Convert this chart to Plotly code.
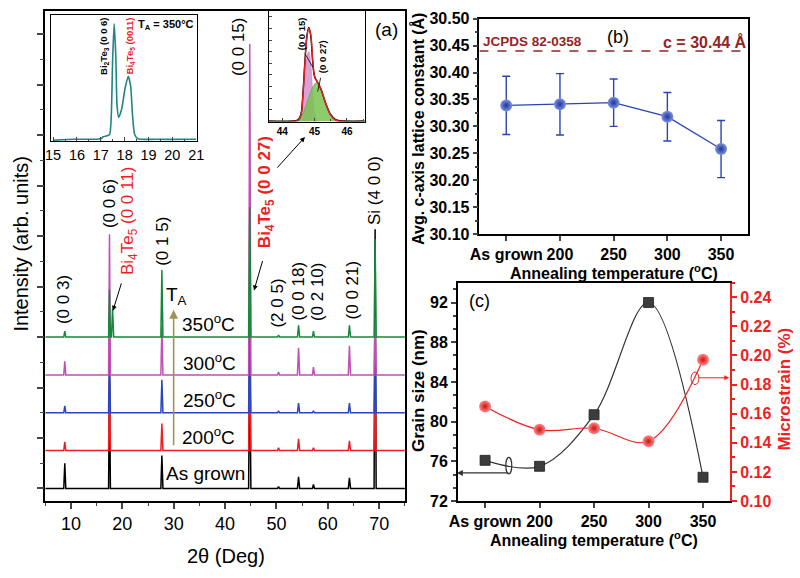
import plotly.graph_objects as go

# ---------------- DATA ----------------
# (a) XRD patterns: peak positions (2theta), half base widths, and peak heights per pattern
PEAK_POS = [8.8, 17.5, 18.1, 27.7, 44.8, 50.4, 54.3, 57.2, 64.2, 69.2]
PEAK_W = [0.2, 0.18, 0.22, 0.2, 0.22, 0.2, 0.22, 0.2, 0.22, 0.2]
PATTERN_NAMES = ["As grown", "200oC", "250oC", "300oC", "350oC"]
PATTERN_OFFSETS = [0, 39, 78, 117, 156]
H_ASGROWN = [26, 110, 0, 34, 150, 2, 12, 4, 11, 267]
H_200 = [9, 80, 0, 28, 120, 3, 12, 3, 10, 60]
H_250 = [7, 70, 0, 34, 110, 2, 10, 2, 10, 60]
H_300 = [14, 145, 0, 50, 341, 3, 28, 8, 30, 60]
H_350 = [6, 49, 29, 69, 134, 2, 12, 6, 12, 101]
X_RANGE_A = [5, 75]
X_TICKS_A = [10, 20, 30, 40, 50, 60, 70]

# inset 1: 350 C pattern, 15-21 deg
INS1_X = [15.0, 15.9, 17.0, 17.1, 17.25, 17.37, 17.44, 17.5, 17.56, 17.63, 17.68, 17.75,
          17.88, 18.01, 18.15, 18.25, 18.33, 18.42, 18.56, 19.3, 21.0]
INS1_Y = [0.7, 1.7, 2.3, 4.3, 5.3, 6.7, 26.7, 86.7, 120.7, 86.7, 36.7, 24.3,
          33.3, 53.3, 66.7, 56.7, 26.7, 6.7, 2.3, 1.7, 1.7]

# inset 2: peak fitting near 45 deg
INS2_X = [43.58, 44.4, 44.5, 44.58, 44.64, 44.7, 44.76, 44.82, 44.88, 44.94, 45.0, 45.1,
          45.2, 45.35, 45.5, 45.65, 45.8, 46.55]
INS2_DATA = [0.5, 0.8, 2, 8, 30, 62, 88, 97, 88, 62, 46, 40, 33, 18, 7, 2, 0.8, 0.5]
INS2_FIT = [0, 0.3, 1.5, 7, 28, 60, 86, 96, 90, 64, 47, 40, 33, 18, 6.5, 1.5, 0.3, 0]
PINK_X = [44.45, 44.55, 44.62, 44.7, 44.76, 44.82, 44.88, 44.94, 45.0, 45.08]
PINK_Y = [0, 3, 20, 48, 66, 72, 60, 30, 8, 0]
GREEN_X = [44.4, 44.55, 44.65, 44.75, 44.85, 44.95, 45.05, 45.15, 45.25, 45.35, 45.5, 45.65, 45.8]
GREEN_Y = [0, 3, 9, 18, 28, 36, 40, 37, 29, 19, 7, 1.5, 0]

# (b) lattice constant
CATS = ["As grown", "200", "250", "300", "350"]
LATTICE = [30.339, 30.341, 30.344, 30.318, 30.258]
LATTICE_ERR = [0.054, 0.057, 0.044, 0.045, 0.053]
JCPDS_C = 30.44

# (c) grain size and microstrain
GRAIN = [76.1, 75.5, 80.7, 92.0, 74.4]
STRAIN = [0.165, 0.149, 0.150, 0.141, 0.197]

# ---------------- STYLE ----------------
W, H = 800, 578
FONT = "Arial, Liberation Sans, sans-serif"
COLORS = ["#000000", "#f01e1e", "#2846c0", "#c24fb5", "#17873a"]
TEAL = "#1f8585"
DARKRED = "#952525"
BLUE = "#2a44b4"
OLIVE = "#a0935a"


def fx(x):
    return x / W


def fy(y):
    return 1 - y / H


fig = go.Figure()

# ---- panel (a) patterns ----
heights_all = [H_ASGROWN, H_200, H_250, H_300, H_350]
for name, off, hs, col in zip(PATTERN_NAMES, PATTERN_OFFSETS, heights_all, COLORS):
    xs, ys = [X_RANGE_A[0]], [off]
    for p, w, h in zip(PEAK_POS, PEAK_W, hs):
        if h <= 0:
            continue
        xs += [p - w, p, p + w]
        ys += [off, off + h, off]
    xs.append(X_RANGE_A[1])
    ys.append(off)
    fig.add_trace(go.Scatter(x=xs, y=ys, mode="lines", name=name,
                             line=dict(color=col, width=1.5),
                             xaxis="x", yaxis="y", hoverinfo="skip"))

# ---- inset 1 ----
fig.add_trace(go.Scatter(x=INS1_X, y=INS1_Y, mode="lines", line=dict(color=TEAL, width=1.6, shape="spline", smoothing=0.6),
                         xaxis="x2", yaxis="y2"))

# ---- inset 2 ----
fig.add_trace(go.Scatter(x=PINK_X, y=PINK_Y, mode="lines", fill="tozeroy",
                         fillcolor="rgba(205,130,200,0.75)", line=dict(color="rgba(190,100,185,0.8)", width=0.6, shape="spline"),
                         xaxis="x3", yaxis="y3"))
fig.add_trace(go.Scatter(x=GREEN_X, y=GREEN_Y, mode="lines", fill="tozeroy",
                         fillcolor="rgba(120,195,80,0.85)", line=dict(color="rgba(90,160,70,0.9)", width=0.6, shape="spline"),
                         xaxis="x3", yaxis="y3"))
fig.add_trace(go.Scatter(x=INS2_X, y=INS2_DATA, mode="lines", line=dict(color="black", width=1.4, shape="spline"),
                         xaxis="x3", yaxis="y3"))
fig.add_trace(go.Scatter(x=INS2_X, y=INS2_FIT, mode="lines", line=dict(color="#e42020", width=1.4, shape="spline"),
                         xaxis="x3", yaxis="y3"))

# ---- panel (b) ----
xi = list(range(len(CATS)))
fig.add_trace(go.Scatter(x=xi, y=LATTICE, mode="lines+markers",
                         error_y=dict(type="data", array=LATTICE_ERR, color=BLUE, thickness=1.4, width=4),
                         line=dict(color=BLUE, width=1.3),
                         marker=dict(size=12, color="#7f93e0", gradient=dict(type="radial", color="#1f349a"),
                                     line=dict(width=0)),
                         xaxis="x4", yaxis="y4"))

# ---- panel (c) ----
fig.add_trace(go.Scatter(x=xi, y=GRAIN, mode="lines+markers",
                         line=dict(color="#333333", width=1.2, shape="spline"),
                         marker=dict(symbol="square", size=10, color="#3c3c3c", line=dict(color="#222", width=0.8)),
                         xaxis="x5", yaxis="y5"))
fig.add_trace(go.Scatter(x=xi, y=STRAIN, mode="lines+markers",
                         line=dict(color="#ee2222", width=1.2, shape="spline"),
                         marker=dict(size=12, color="#ff8a8a", gradient=dict(type="radial", color="#d01010"),
                                     line=dict(width=0)),
                         xaxis="x5", yaxis="y6"))

# ---------------- AXES ----------------
axline = dict(showline=True, linecolor="black", linewidth=1.5, showgrid=False, zeroline=False)
boldtick = dict(family=FONT, size=16, color="black", weight="bold")

layout = dict(
    width=W, height=H, margin=dict(l=0, r=0, t=0, b=0),
    paper_bgcolor="white", plot_bgcolor="white", showlegend=False,
    font=dict(family=FONT, color="black"),
    xaxis=dict(domain=[fx(37), fx(404)], range=X_RANGE_A, anchor="y", tickmode="array", tickvals=X_TICKS_A,
               ticks="outside", ticklen=6, tickwidth=1.5, mirror=True,
               minor=dict(tick0=5, dtick=5, ticks="outside", ticklen=3, tickwidth=1.2),
               tickfont=dict(family=FONT, size=18), **axline),
    yaxis=dict(domain=[fy(508), fy(3)], range=[-13, 492], anchor="x", tick0=0, dtick=52,
               ticks="outside", ticklen=7, tickwidth=1.5, showticklabels=False, mirror=True,
               minor=dict(tick0=26, dtick=52, ticks="outside", ticklen=4, tickwidth=1.2), **axline),
    xaxis2=dict(domain=[fx(43), fx(192)], range=[14.918, 21.04], anchor="y2", dtick=1, tick0=15,
                ticks="inside", ticklen=4, tickwidth=1.2, mirror=True, ticklabelstandoff=1,
                minor=dict(dtick=0.5, tick0=15, ticks="inside", ticklen=2),
                tickfont=dict(family=FONT, size=14.5), **dict(axline, linewidth=1.2)),
    yaxis2=dict(domain=[fy(137), fy(7)], range=[0, 130], anchor="x2", showticklabels=False,
                ticks="", mirror=True, **dict(axline, linewidth=1.2)),
    xaxis3=dict(domain=[fx(265), fx(363)], range=[43.58, 46.55], anchor="y3", dtick=1, tick0=44,
                ticks="inside", ticklen=3, tickwidth=1, mirror=True,
                minor=dict(dtick=0.5, tick0=44, ticks="inside", ticklen=2),
                tickfont=dict(family=FONT, size=10, weight="bold"), **dict(axline, linewidth=1.2)),
    yaxis3=dict(domain=[fy(117), fy(3)], range=[0, 114], anchor="x3", showticklabels=False,
                ticks="inside", ticklen=3, dtick=12, mirror=True, **dict(axline, linewidth=1.2)),
    xaxis4=dict(domain=[fx(480), fx(754)], range=[-0.5, 4.5], anchor="y4", tickmode="array",
                tickvals=xi, ticktext=CATS, ticks="outside", ticklen=5, tickwidth=1.5, mirror=True,
                tickfont=boldtick, **axline),
    yaxis4=dict(domain=[fy(233), fy(11)], range=[30.10, 30.50], anchor="x4", tick0=30.10, dtick=0.05,
                tickformat=".2f", ticks="outside", ticklen=5, tickwidth=1.5, mirror=True,
                minor=dict(dtick=0.025, ticks="outside", ticklen=3),
                tickfont=boldtick, **axline),
    xaxis5=dict(domain=[fx(458), fx(736)], range=[-0.5, 4.5], anchor="y5", tickmode="array",
                tickvals=xi, ticktext=CATS, ticks="outside", ticklen=5, tickwidth=1.5, mirror=True,
                tickfont=boldtick, **axline),
    yaxis5=dict(domain=[fy(508), fy(283)], range=[72, 94], anchor="x5", tick0=72, dtick=4,
                ticks="outside", ticklen=5, tickwidth=1.5,
                minor=dict(tick0=72, dtick=4 / 3, ticks="outside", ticklen=3),
                tickfont=boldtick, **axline),
    yaxis6=dict(range=[0.10, 0.25], overlaying="y5", side="right", anchor="x5", tick0=0.10, dtick=0.02,
                tickformat=".2f", ticks="outside", ticklen=5, tickwidth=1.5, tickcolor="#ee2222",
                minor=dict(tick0=0.10, dtick=0.01, ticks="outside", ticklen=3, tickcolor="#ee2222"),
                tickfont=dict(family=FONT, size=16, color="#ee2222", weight="bold"),
                showline=True, linecolor="#ee2222", linewidth=1.5, showgrid=False, zeroline=False),
)

# ---------------- ANNOTATIONS ----------------
anns = []


def txt(text, x, y, size, color="black", angle=0, bold=False):
    if bold:
        text = "<b>" + text + "</b>"
    anns.append(dict(text=text, x=fx(x), y=fy(y), xref="paper", yref="paper", showarrow=False,
                     xanchor="center", yanchor="middle", textangle=angle,
                     font=dict(family=FONT, size=size, color=color)))


def arrow(tx, ty, hx, hy, color="black", width=1.0, size=1.0, head=2):
    anns.append(dict(text="", x=fx(hx), y=fy(hy), xref="paper", yref="paper", showarrow=True,
                     ax=tx - hx, ay=ty - hy, arrowhead=head, arrowsize=size, arrowwidth=width,
                     arrowcolor=color))


# panel (a) titles
txt("2θ (Deg)", 221, 565, 20)
txt("Intensity (arb. units)", 12, 243, 20, angle=-90)
txt("(a)", 385, 22, 19)

# peak labels
txt("(0 0 3)", 55, 300, 17, angle=-90)
txt("(0 0 6)", 102, 201, 17, angle=-90)
txt("Bi<sub>4</sub>Te<sub>5</sub> (0 0 11)", 122, 220, 17, color="#f01e1e", angle=-90)
txt("(0 1 5)", 157, 240, 17, angle=-90)
txt("(0 0 15)", 235, 40, 17, angle=-90)
txt("Bi<sub>4</sub>Te<sub>5</sub> (0 0 27)", 263, 190, 17, color="#f01e1e", angle=-90, bold=True)
txt("(2 0 5)", 274, 304, 17, angle=-90)
txt("(0 0 18)", 295, 292, 17, angle=-90)
txt("(0 2 10)", 315, 292, 17, angle=-90)
txt("(0 0 21)", 350, 291, 17, angle=-90)
txt("Si (4 0 0)", 373, 188, 17, angle=-90)

# temperature labels
txt("350<sup>o</sup>C", 204, 325, 19)
txt("300<sup>o</sup>C", 205, 365, 19)
txt("250<sup>o</sup>C", 205, 403, 19)
txt("200<sup>o</sup>C", 204, 441, 19)
txt("As grown", 200, 480, 19)
txt("T<sub>A</sub>", 171, 297, 19)

arrow(168, 448, 168, 311, color=OLIVE, width=1.6, size=1.1)
arrow(115, 283, 106, 312, width=1.0)
arrow(259, 260, 250, 291, width=1.0)
arrow(273, 165, 302, 133, width=1.0)

# inset 1 labels
txt("Bi<sub>2</sub>Te<sub>3</sub> (0 0 6)", 97, 40, 9.5, angle=-90, bold=True)
txt("Bi<sub>4</sub>Te<sub>5</sub> (0011)", 123, 39, 9.5, color="#f01e1e", angle=-90, bold=True)
txt("T<sub>A</sub> = 350°C", 160, 17, 11, bold=True)

# inset 2 labels
txt("(0 0 15)", 298, 27, 9.5, angle=-90, bold=True)
txt("(0 0 27)", 320, 50, 9.5, angle=-90, bold=True)

# panel (b)
txt("(b)", 621, 30, 18)
txt("JCPDS 82-0358", 534, 35, 13.5, color=DARKRED, bold=True)
txt("c = 30.44 Å", 710, 35, 16, color=DARKRED, bold=True)
txt("Avg. c-axis lattice constant (Å)", 418, 125, 16, angle=-90, bold=True)
txt("Annealing temperature (<sup>o</sup>C)", 617, 272, 16, bold=True)

# panel (c)
txt("(c)", 480, 302, 18)
txt("Annealing temperature (<sup>o</sup>C)", 597, 547, 16, bold=True)
txt("Grain size (nm)", 418, 394, 17, angle=-90, bold=True)
txt("Microstrain (%)", 791, 393, 17, color="#ee2222", angle=-90, bold=True)
arrow(510, 479, 457, 479, color="#333333", width=1.2, size=1.0)
arrow(703, 381, 735, 381, color="#ee2222", width=1.0, size=1.0)

layout["annotations"] = anns

# ---------------- SHAPES ----------------
shapes = [
    dict(type="line", xref="x4", yref="y4", x0=-0.5, x1=4.5, y0=JCPDS_C, y1=JCPDS_C,
         line=dict(color=DARKRED, width=1.5, dash="dash")),
    dict(type="line", xref="paper", yref="paper", x0=fx(302), y0=fy(47), x1=fx(310), y1=fy(61),
         line=dict(color="black", width=0.8)),
    dict(type="line", xref="paper", yref="paper", x0=fx(318), y0=fy(72), x1=fx(315), y1=fy(86),
         line=dict(color="black", width=0.8)),
    dict(type="circle", xref="paper", yref="paper", x0=fx(507), x1=fx(513), y0=fy(480), y1=fy(463),
         line=dict(color="#333333", width=1.2)),
    dict(type="circle", xref="paper", yref="paper", x0=fx(696), x1=fx(704), y0=fy(388), y1=fy(375),
         line=dict(color="#ee2222", width=1.0)),
]
layout["shapes"] = shapes

fig.update_layout(**layout)
fig.write_html("out.html")
